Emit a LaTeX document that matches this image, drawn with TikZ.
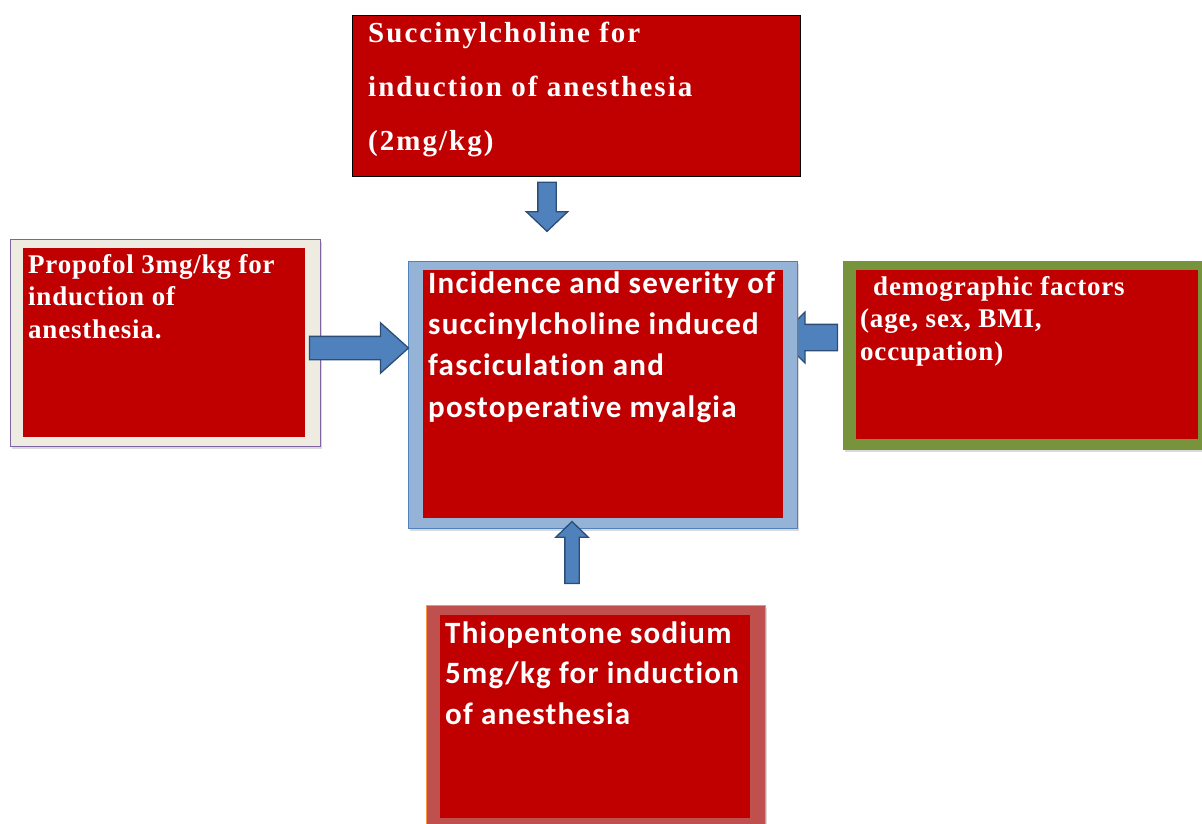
\documentclass[tikz,border=0pt]{standalone}
\usepackage{fontspec}
\setmainfont{Liberation Serif}
\newfontfamily\headfont[LetterSpace=7]{Liberation Serif}
\newfontfamily\serifbox[LetterSpace=3]{Liberation Serif}
\newfontfamily\sansbox[LetterSpace=4,Ligatures=NoCommon]{Carlito}
\usetikzlibrary{shapes.arrows,shadows}

\definecolor{boxred}{RGB}{192,0,0}
\definecolor{framebeige}{RGB}{238,236,225}
\definecolor{framepurple}{RGB}{128,100,162}
\definecolor{frameblue}{RGB}{149,179,215}
\definecolor{lineblue}{RGB}{79,129,189}
\definecolor{frameolive}{RGB}{119,147,60}
\definecolor{framerose}{RGB}{192,80,77}
\definecolor{lineorange}{RGB}{247,150,70}
\definecolor{arrowfill}{RGB}{79,129,189}
\definecolor{arrowline}{RGB}{44,77,117}

\begin{document}
\begin{tikzpicture}[x=1pt,y=1pt,yscale=-1,xscale=1,
	outerbox/.style={rectangle,inner sep=0pt,anchor=north west,line width=1pt,
		drop shadow={shadow xshift=1.5pt,shadow yshift=-2pt,opacity=0.3}},
	redbox/.style={rectangle,inner sep=0pt,anchor=north west,fill=boxred},
	boxtext/.style={inner sep=0pt,anchor=north west,align=left,text=white},
	blockarrow/.style={single arrow,draw=arrowline,fill=arrowfill,line width=1.3pt,
		inner xsep=0pt,anchor=center}]
	\useasboundingbox (0,0) rectangle (1202,823);
	
	%Block arrow: demographic -> centre (tip hidden under the centre frame)
	\node[blockarrow,rotate=180,inner ysep=12.5pt,minimum width=50pt,minimum height=58pt,
		single arrow head extend=12.5pt,single arrow tip angle=90] (arrDemo) at (815,337.5) {};
	
	%Shape: top box
	\node[redbox,draw=black,line width=0.8pt,minimum width=448pt,minimum height=161pt] (succ) at (352,15) {};
	%Shape: left box
	\node[outerbox,fill=framebeige,draw=framepurple,minimum width=310pt,minimum height=207pt] (propofolFrame) at (10,239) {};
	\node[redbox,minimum width=282pt,minimum height=189pt] (propofol) at (23,248) {};
	%Shape: centre box
	\node[outerbox,fill=frameblue,draw=lineblue,minimum width=389pt,minimum height=267pt] (outcomeFrame) at (408,261) {};
	\node[redbox,minimum width=360pt,minimum height=248pt] (outcome) at (423,270) {};
	%Shape: right box
	\node[outerbox,fill=frameolive,draw=frameolive,minimum width=380pt,minimum height=188pt] (demoFrame) at (843,261) {};
	\node[redbox,minimum width=342pt,minimum height=169pt] (demo) at (856,270) {};
	%Shape: bottom box
	\node[outerbox,fill=framerose,draw=lineorange,minimum width=339pt,minimum height=240pt] (thioFrame) at (426,605) {};
	\node[redbox,minimum width=310pt,minimum height=203pt] (thio) at (440,615) {};
	
	%Block arrows
	\node[blockarrow,rotate=-90,inner ysep=8.5pt,minimum width=40pt,minimum height=49pt,
		single arrow head extend=11.5pt,single arrow tip angle=93] (arrSucc) at (547,202.5) {};
	\node[blockarrow,inner ysep=11pt,minimum width=49pt,minimum height=99pt,
		single arrow head extend=13.5pt,single arrow tip angle=84] (arrProp) at (352.5,348) {};
	\node[blockarrow,rotate=90,inner ysep=6.5pt,minimum width=31pt,minimum height=62pt,
		single arrow head extend=9pt,single arrow tip angle=92] (arrThio) at (572,556) {};
	
	% Text Node
	\node[boxtext,font=\headfont\bfseries\fontsize{29}{54}\selectfont] (succTxt) at (368,4.2)
		{\strut Succinylcholine for\\induction of anesthesia\\(2mg/kg)};
	% Text Node
	\node[boxtext,font=\serifbox\bfseries\fontsize{27}{32.5}\selectfont] (propofolTxt) at (28,250.25)
		{\strut Propofol 3mg/kg for\\induction of\\anesthesia.};
	% Text Node
	\node[boxtext,font=\sansbox\bfseries\fontsize{31}{41.3}\selectfont] (outcomeTxt) at (428,264.1)
		{\strut Incidence and severity of\\succinylcholine induced\\fasciculation and\\postoperative myalgia};
	% Text Node
	\node[boxtext,font=\serifbox\bfseries\fontsize{27}{32.5}\selectfont] (demoTxt) at (860,272.25)
		{\strut\hspace*{13pt}demographic factors\\(age, sex, BMI,\\occupation)};
	% Text Node
	\node[boxtext,font=\sansbox\bfseries\fontsize{31}{40.5}\selectfont] (thioTxt) at (445,614.65)
		{\strut Thiopentone sodium\\5mg/kg for induction\\of anesthesia};
\end{tikzpicture}
\end{document}
